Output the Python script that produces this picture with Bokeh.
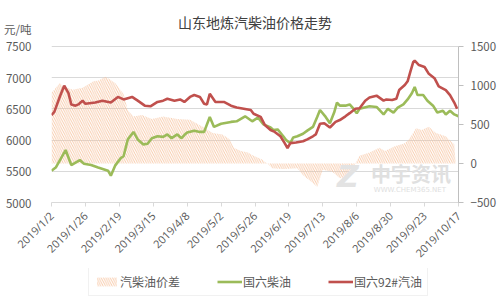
import math
import pandas as pd
from bokeh.plotting import figure
from bokeh.layouts import column
from bokeh.models import (Range1d, LinearAxis, FixedTicker, Legend, LegendItem,
                          Label, ColumnDataSource)
from bokeh.embed import file_html
from bokeh.resources import INLINE

# ---------------- data ----------------
title_text = "山东地炼汽柴油价格走势"
unit_text = "元/吨"
legend_labels = ["汽柴油价差", "国六柴油", "国六92#汽油"]

tick_labels = ["2019/1/2", "2019/1/26", "2019/2/19", "2019/3/15", "2019/4/8",
               "2019/5/2", "2019/5/26", "2019/6/19", "2019/7/13", "2019/8/6",
               "2019/8/30", "2019/9/23", "2019/10/17"]
left_ticks = [5000, 5500, 6000, 6500, 7000, 7500]
right_ticks = [-500, 0, 500, 1000, 1500]

gasoline_dates = ["2019/1/2", "2019/1/4", "2019/1/8", "2019/1/11", "2019/1/14", "2019/1/16",
                  "2019/1/19", "2019/1/21", "2019/1/24", "2019/1/26", "2019/2/2", "2019/2/7",
                  "2019/2/13", "2019/2/18", "2019/2/22", "2019/2/28", "2019/3/4", "2019/3/9",
                  "2019/3/13", "2019/3/18", "2019/3/22", "2019/3/25", "2019/3/30", "2019/4/3",
                  "2019/4/6", "2019/4/10", "2019/4/13", "2019/4/17", "2019/4/20", "2019/4/22",
                  "2019/4/24", "2019/4/28", "2019/5/4", "2019/5/9", "2019/5/13", "2019/5/18",
                  "2019/5/23", "2019/5/25", "2019/5/30", "2019/6/2", "2019/6/6", "2019/6/9",
                  "2019/6/13", "2019/6/16", "2019/6/18", "2019/6/20", "2019/6/24", "2019/6/29",
                  "2019/7/2", "2019/7/6", "2019/7/8", "2019/7/11", "2019/7/14", "2019/7/18",
                  "2019/7/22", "2019/7/25", "2019/7/29", "2019/8/1", "2019/8/5", "2019/8/8",
                  "2019/8/12", "2019/8/15", "2019/8/20", "2019/8/25", "2019/8/27", "2019/8/31",
                  "2019/9/3", "2019/9/5", "2019/9/9", "2019/9/11", "2019/9/13", "2019/9/15",
                  "2019/9/16", "2019/9/19", "2019/9/23", "2019/9/26", "2019/9/30", "2019/10/3",
                  "2019/10/8", "2019/10/11", "2019/10/14", "2019/10/16"]
gasoline_92 = [6400, 6450, 6700, 6870, 6750, 6570, 6550, 6570, 6630, 6580,
               6600, 6630, 6600, 6690, 6650, 6690,
               6630, 6550, 6540, 6610, 6630, 6660, 6630,
               6650, 6610, 6690, 6720, 6690, 6580, 6570, 6740, 6610,
               6610, 6550, 6520, 6500, 6480, 6420, 6370,
               6240, 6160, 6130, 6060, 5950, 5870, 5950, 5960, 5980,
               6010, 6060, 6090, 6260, 6270, 6200, 6290, 6320, 6380,
               6430, 6500, 6510, 6630, 6680, 6710, 6630, 6650, 6640,
               6660, 6800, 6880, 6940, 7100, 7250, 7270, 7200, 7170, 7060, 6990,
               6860, 6800, 6720, 6600, 6500]

diesel_dates = ["2019/1/2", "2019/1/5", "2019/1/12", "2019/1/16", "2019/1/22", "2019/1/25",
                "2019/1/30", "2019/2/4", "2019/2/11", "2019/2/13", "2019/2/16", "2019/2/20",
                "2019/2/22", "2019/2/25", "2019/3/1", "2019/3/4", "2019/3/8", "2019/3/11",
                "2019/3/14", "2019/3/18", "2019/3/22", "2019/3/25", "2019/3/28", "2019/4/1",
                "2019/4/4", "2019/4/6", "2019/4/8", "2019/4/13", "2019/4/17", "2019/4/20",
                "2019/4/24", "2019/4/27", "2019/5/2", "2019/5/9", "2019/5/13", "2019/5/19",
                "2019/5/24", "2019/5/28", "2019/6/1", "2019/6/6", "2019/6/8", "2019/6/11",
                "2019/6/15", "2019/6/17", "2019/6/20", "2019/6/22", "2019/6/25", "2019/6/29",
                "2019/7/2", "2019/7/6", "2019/7/9", "2019/7/11", "2019/7/15", "2019/7/18",
                "2019/7/21", "2019/7/23", "2019/7/25", "2019/7/29", "2019/8/1", "2019/8/3",
                "2019/8/6", "2019/8/8", "2019/8/15", "2019/8/20", "2019/8/25", "2019/8/28",
                "2019/9/1", "2019/9/4", "2019/9/8", "2019/9/11", "2019/9/14", "2019/9/16",
                "2019/9/18", "2019/9/22", "2019/9/25", "2019/9/29", "2019/10/2", "2019/10/6",
                "2019/10/8", "2019/10/11", "2019/10/14", "2019/10/17"]
diesel_6 = [5510, 5560, 5840, 5600, 5680, 5620,
            5600, 5560, 5510, 5430, 5590, 5710,
            5740, 6010, 6130, 6010, 5930, 5940,
            6030, 6060, 6050, 6090, 6030, 6090,
            6030, 6080, 6120, 6150, 6130, 6130,
            6370, 6210, 6260, 6290, 6300, 6380,
            6300, 6360, 6250, 6200, 6160, 6170,
            6060, 6000, 5950, 6040, 6060, 6100,
            6150, 6210, 6370, 6480, 6370, 6270,
            6440, 6600, 6550, 6550, 6570, 6520,
            6430, 6500, 6540, 6530, 6410, 6500,
            6440, 6520, 6570, 6650, 6750, 6850,
            6720, 6720, 6630, 6550, 6440, 6470,
            6410, 6470, 6410, 6380]

spread_dates = ["2019/1/2", "2019/1/8", "2019/1/10", "2019/1/17", "2019/1/24", "2019/2/1",
                "2019/2/4", "2019/2/9", "2019/2/11", "2019/2/16", "2019/2/22", "2019/2/25",
                "2019/3/1", "2019/3/7", "2019/3/14", "2019/3/22", "2019/4/1", "2019/4/10",
                "2019/4/19", "2019/4/26", "2019/5/3", "2019/5/8", "2019/5/11", "2019/5/16",
                "2019/5/21", "2019/5/25", "2019/5/31", "2019/6/2", "2019/6/4", "2019/6/7",
                "2019/6/15", "2019/6/25", "2019/6/29", "2019/7/6", "2019/7/9", "2019/7/13",
                "2019/7/20", "2019/7/25", "2019/7/30", "2019/8/3", "2019/8/5", "2019/8/8",
                "2019/8/15", "2019/8/22", "2019/8/26", "2019/9/2", "2019/9/9", "2019/9/12",
                "2019/9/17", "2019/9/21", "2019/9/26", "2019/10/1", "2019/10/8", "2019/10/13",
                "2019/10/14", "2019/10/15"]
spread = [907, 1030, 990, 945, 970, 1055,
          1060, 1110, 1090, 1030, 890, 680,
          600, 620, 570, 600, 570, 560,
          470, 390, 370, 310, 200, 160,
          140, 100, 50, 20, 0, -60,
          -70, -60, -150, -250, -300, -80,
          -110, -190, -170, -60, 0, 100,
          140, 200, 160, 220, 260, 310,
          450, 430, 470, 390, 350, 260,
          250, 0]

# ---------------- helpers ----------------
START = pd.Timestamp("2019-01-02")


def to_days(dates):
    return [int((pd.to_datetime(d, format="%Y/%m/%d") - START).days) for d in dates]


tick_pos = to_days(tick_labels)

FONT = "Noto Sans CJK SC"
NUMFONT = "Open Sans"
TXT = "#595959"
RED = "#c0504d"
GREEN = "#9bbb59"
HATCH = "#f6bf98"
AREA_STYLE = dict(fill_color="white", fill_alpha=0.0, hatch_pattern="\\",
                  hatch_color=HATCH, hatch_scale=4.5, hatch_weight=0.9, hatch_alpha=0.9)

W = 500
H_MAIN, H_LEG = 268, 31
B_LEFT, B_RIGHT, B_TOP, B_BOTTOM = 45, 42, 8, 60
frame_h = H_MAIN - B_TOP - B_BOTTOM
# reference scale: 2500 units of the left axis span 161 px
left_lo, left_hi_main = 5000, 7500
px_main = 161.0
left_top = left_lo + frame_h * (left_hi_main - left_lo) / px_main
right_lo, right_hi_main = -500, 1500
right_top = right_lo + (left_top - left_lo) * (right_hi_main - right_lo) / (left_hi_main - left_lo)
unit_y = left_lo + (frame_h - 21) * (left_hi_main - left_lo) / px_main   # row of "元/吨"
title_y = left_lo + (frame_h - 14) * (left_hi_main - left_lo) / px_main

p = figure(width=W, height=H_MAIN, output_backend="svg", toolbar_location=None,
           title_location=None,
           x_range=Range1d(tick_pos[0], tick_pos[-1]), y_range=Range1d(left_lo, left_top),
           min_border_left=B_LEFT, min_border_right=B_RIGHT,
           min_border_top=B_TOP, min_border_bottom=B_BOTTOM)
p.extra_y_ranges = {"spread": Range1d(right_lo, right_top)}
p.outline_line_color = None
p.background_fill_color = "white"
p.border_fill_color = "white"

# spread area (right axis)
s_src = ColumnDataSource(dict(x=to_days(spread_dates), y=spread, z=[0] * len(spread)))
p.varea(x="x", y1="z", y2="y", source=s_src, y_range_name="spread", **AREA_STYLE)

g_src = ColumnDataSource(dict(x=to_days(diesel_dates), y=diesel_6))
p.line("x", "y", source=g_src, line_color=GREEN, line_width=2.6)
q_src = ColumnDataSource(dict(x=to_days(gasoline_dates), y=gasoline_92))
p.line("x", "y", source=q_src, line_color=RED, line_width=2.6)

# title inside the (extended) frame
p.add_layout(Label(x=(tick_pos[0] + tick_pos[-1]) / 2, y=title_y, text=title_text,
                   text_font=FONT, text_font_size="14px", text_color="#404040",
                   text_align="center", text_baseline="middle"))

# axes
xa = p.xaxis[0]
xa.ticker = FixedTicker(ticks=tick_pos)
xa.major_label_overrides = {t: l for t, l in zip(tick_pos, tick_labels)}
xa.major_label_orientation = math.pi / 4
xa.axis_line_color = "#d9d9d9"
xa.major_tick_line_color = "#d9d9d9"
xa.major_tick_out = 4
xa.major_tick_in = 0
xa.minor_tick_line_color = None
xa.major_label_text_font = NUMFONT
xa.major_label_text_font_size = "11px"
xa.major_label_text_color = TXT
xa.major_label_standoff = 7

ya = p.yaxis[0]
ya.ticker = FixedTicker(ticks=left_ticks + [unit_y])
ya.major_label_overrides = {unit_y: unit_text}
ya.axis_line_color = None
ya.major_tick_line_color = None
ya.minor_tick_line_color = None
ya.major_label_text_font = FONT
ya.major_label_text_font_size = "11.5px"
ya.major_label_text_color = TXT
ya.major_label_standoff = 14

ra = LinearAxis(y_range_name="spread", ticker=FixedTicker(ticks=right_ticks),
                bounds=(right_lo, right_hi_main))
ra.axis_line_color = "#bfbfbf"
ra.major_tick_line_color = "#bfbfbf"
ra.major_tick_out = 5
ra.major_tick_in = 0
ra.minor_tick_line_color = None
ra.major_label_text_font = FONT
ra.major_label_text_font_size = "11.5px"
ra.major_label_text_color = TXT
ra.major_label_standoff = 7
p.add_layout(ra, "right")

p.xgrid.grid_line_color = None
p.ygrid.ticker = FixedTicker(ticks=left_ticks[1:])
p.ygrid.grid_line_color = "#d9d9d9"
p.ygrid.grid_line_width = 1

# watermark
p.add_layout(Label(x=202, y=5140, text="Z", text_font="DejaVu Sans", text_font_size="30px",
                   text_font_style="bold italic", text_color="#e3e3e3", text_baseline="bottom"))
p.add_layout(Label(x=226, y=5230, text="中宇资讯", text_font=FONT, text_font_size="20px",
                   text_font_style="bold", text_color="#e0e0e0", text_baseline="bottom"))
p.add_layout(Label(x=228, y=5135, text="WWW.CHEM365.NET", text_font="DejaVu Sans",
                   text_font_size="7px", text_color="#e0e0e0", text_baseline="bottom"))

# ---------------- legend strip (same data; its ranges keep the marks out of view) -----------
q = figure(width=W, height=H_LEG, output_backend="svg", toolbar_location=None,
           title_location=None, x_axis_location=None, y_axis_location=None,
           x_range=Range1d(-1000, -999), y_range=Range1d(-1000, -999),
           min_border_left=0, min_border_right=0, min_border_top=0, min_border_bottom=0)
q.outline_line_color = None
q.grid.grid_line_color = None
q.background_fill_color = "white"
q.border_fill_color = "white"
la = q.varea(x="x", y1="z", y2="y", source=s_src, **AREA_STYLE)
lg = q.line("x", "y", source=g_src, line_color=GREEN, line_width=2.6)
lr = q.line("x", "y", source=q_src, line_color=RED, line_width=2.6)

legend = Legend(items=[LegendItem(label=legend_labels[0], renderers=[la]),
                       LegendItem(label=legend_labels[1], renderers=[lg]),
                       LegendItem(label=legend_labels[2], renderers=[lr])],
                orientation="horizontal", location=(37, 3), margin=0, padding=5,
                spacing=37, glyph_width=25, glyph_height=11, label_standoff=1,
                label_text_font=FONT, label_text_font_size="12px", label_text_color=TXT,
                border_line_color="#e3e3e3", background_fill_alpha=1.0)
q.add_layout(legend, "center")

layout = column(p, q, spacing=0)
open("out.html", "w").write(file_html(layout, INLINE))
